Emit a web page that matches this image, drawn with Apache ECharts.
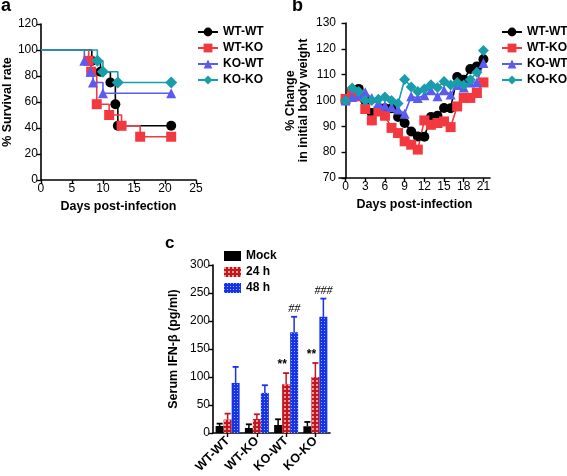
<!DOCTYPE html>
<html><head><meta charset="utf-8">
<script src="https://cdn.jsdelivr.net/npm/echarts@6/dist/echarts.min.js"></script>
<style>html,body{margin:0;padding:0;background:#fff}#c{width:567px;height:476px}</style>
</head><body><div id="c"></div>
<script>
// ---------- Panel a: survival ----------
const groupNames = ['WT-WT', 'WT-KO', 'KO-WT', 'KO-KO'];
const survDaysWTWT = [0, 8.2, 9.6, 11.2, 12, 12.4, 21];
const survValsWTWT = [100, 91.7, 83.3, 75, 58.3, 41.7, 41.7];
const survDaysWTKO = [0, 7.7, 8.1, 9, 11, 13, 16, 21];
const survValsWTKO = [100, 91.7, 83.3, 58.3, 50, 41.7, 33.3, 33.3];
const survDaysKOWT = [0, 7, 8, 8.4, 10, 21];
const survValsKOWT = [100, 91.7, 83.3, 75, 66.7, 66.7];
const survDaysKOKO = [0, 9.1, 10, 12.4, 21];
const survValsKOKO = [100, 91.7, 83.3, 75, 75];

// ---------- Panel b: body weight ----------
const weightDays = [0,1,2,3,4,5,6,7,8,9,10,11,12,13,14,15,16,17,18,19,20,21];
const weightWTWT = [100,104,104.5,100,95.2,95.8,97,97,93.6,91.3,88,86.1,86,93.6,94.1,97.1,97,109.1,108,112.2,113.2,116];
const weightWTKO = [100.6,102.9,101.6,96.7,92.3,95.8,94.1,89.4,87.4,84.2,82.9,81,92.3,90.6,91.3,91.9,89.7,97.7,101,101,102.9,107];
const weightKOWT = [100,101.4,102,103.2,101,99,98,97.5,96.5,94.9,101.6,101,102,104,101.6,104,102.3,106,105,107,107,114.5];
const weightKOKO = [100,104.8,103.5,100,100,100.5,101.4,100,98.8,108.1,105.2,103.5,104.5,106.1,105,107.4,106,107,106,108,110.9,119.4];
const weightTicks = [0,3,6,9,12,15,18,21];

// ---------- Panel c: serum IFN-beta ----------
const ifnCats = ['WT-WT', 'WT-KO', 'KO-WT', 'KO-KO'];
const ifnNames = ['Mock', '24 h', '48 h'];
const ifnMock = [12.5, 9, 14.3, 12];
const ifnMockErr = [4.2, 6.5, 10.2, 7.7];
const ifn24 = [24, 25, 87, 100];
const ifn24Err = [10.6, 8.4, 20, 25];
const ifn48 = [89.4, 71.6, 180, 207.5];
const ifn48Err = [28.6, 13.7, 27.5, 32.5];
const ifn24Marks = ['', '', '**', '**'];
const ifn48Marks = ['', '', '##', '###'];

const colors = ['#000000', '#f2393f', '#5b5bf0', '#1a9dab'];
const symbols = ['circle', 'rect', 'triangle', 'diamond'];
const FONT = 'Liberation Sans';

function axisCommon() {
  return {
    axisLine: {show: true, lineStyle: {color: '#000', width: 1.6}},
    axisTick: {show: true, length: 4, lineStyle: {color: '#000', width: 1.4}},
    axisLabel: {color: '#000', fontFamily: FONT, fontSize: 12, margin: 3},
    splitLine: {show: false},
    nameTextStyle: {color: '#000', fontFamily: FONT, fontWeight: 'bold', fontSize: 12.5}
  };
}

function survSeries(idx, days, vals) {
  return {
    name: groupNames[idx], type: 'line', step: 'end', xAxisIndex: 0, yAxisIndex: 0,
    data: days.map((d, i) => i === 0 ? {value: [d, vals[i]], symbol: 'none'} : [d, vals[i]]),
    symbol: symbols[idx], symbolSize: idx === 3 ? 12 : 10,
    lineStyle: {color: colors[idx], width: 1.6},
    itemStyle: {color: colors[idx]}, animation: false
  };
}
function weightSeries(idx, vals) {
  return {
    name: groupNames[idx], type: 'line', xAxisIndex: 1, yAxisIndex: 1,
    data: weightDays.map((d, i) => [d, vals[i]]),
    symbol: symbols[idx], symbolSize: idx === 3 ? 11 : 10,
    lineStyle: {color: colors[idx], width: 1.6},
    itemStyle: {color: colors[idx]}, animation: false
  };
}

const barColors = ['#000000', '#c4161d', '#1733e6'];
const decals = [
  null,
  {symbol: 'rect', symbolSize: 1, dashArrayX: [2, 2], dashArrayY: [2, 2], color: 'rgba(255,190,190,0.8)'},
  {symbol: 'rect', symbolSize: 1, dashArrayX: [1, 2], dashArrayY: [1, 2], color: 'rgba(200,215,255,0.75)'}
];
function barSeries(k, vals) {
  const st = {color: barColors[k]};
  if (decals[k]) st.decal = decals[k];
  return {
    name: ifnNames[k], type: 'bar', xAxisIndex: 2, yAxisIndex: 2, data: vals,
    barWidth: 8, barGap: '0%', itemStyle: st, animation: false
  };
}
function errSeries(k, vals, errs, offset, marks, markFont, markDx) {
  return {
    type: 'custom', xAxisIndex: 2, yAxisIndex: 2, animation: false, silent: true, z: 5,
    data: vals.map((v, i) => [i, v, v + errs[i]]),
    renderItem(params, api) {
      const i = api.value(0);
      const lo = api.coord([i, api.value(1)]);
      const hi = api.coord([i, api.value(2)]);
      const x = lo[0] + offset;
      const children = [
        {type: 'line', shape: {x1: x, y1: lo[1], x2: x, y2: hi[1]}, style: {stroke: barColors[k], lineWidth: 1.5}},
        {type: 'line', shape: {x1: x - 3, y1: hi[1], x2: x + 3, y2: hi[1]}, style: {stroke: barColors[k], lineWidth: 1.8}}
      ];
      const m = marks ? marks[params.dataIndex] : '';
      if (m) {
        children.push({type: 'text', x: x + markDx, y: hi[1] - 2,
          style: {text: m, fill: '#000', font: markFont, align: 'center', verticalAlign: 'bottom'}});
      }
      return {type: 'group', children};
    }
  };
}

const series = [
  survSeries(0, survDaysWTWT, survValsWTWT),
  survSeries(1, survDaysWTKO, survValsWTKO),
  survSeries(2, survDaysKOWT, survValsKOWT),
  survSeries(3, survDaysKOKO, survValsKOKO),
  weightSeries(0, weightWTWT),
  weightSeries(1, weightWTKO),
  weightSeries(2, weightKOWT),
  weightSeries(3, weightKOKO),
  barSeries(0, ifnMock),
  barSeries(1, ifn24),
  barSeries(2, ifn48),
  errSeries(0, ifnMock, ifnMockErr, -8, null),
  errSeries(1, ifn24, ifn24Err, 0, ifn24Marks, 'bold 12px "Liberation Sans"', -4),
  errSeries(2, ifn48, ifn48Err, 8, ifn48Marks, 'italic 12px "Liberation Serif"', 0)
];

const legendText = {color: '#000', fontFamily: FONT, fontWeight: 'bold', fontSize: 12, lineHeight: 12};

const option = {
  backgroundColor: '#fff',
  animation: false,
  title: [
    {text: 'a', left: 1, top: -3, padding: 0, textStyle: {fontFamily: FONT, fontWeight: 'bold', fontSize: 18, color: '#000'}},
    {text: 'b', left: 292, top: -3, padding: 0, textStyle: {fontFamily: FONT, fontWeight: 'bold', fontSize: 18, color: '#000'}},
    {text: 'c', left: 165, top: 235, padding: 0, textStyle: {fontFamily: FONT, fontWeight: 'bold', fontSize: 17, color: '#000'}}
  ],
  legend: [
    {data: groupNames.map(n => ({name: n})), orient: 'vertical', left: 197, top: 26, padding: 0,
     itemWidth: 20, itemHeight: 11, itemGap: 4, textStyle: legendText, selectedMode: false},
    {data: groupNames.map(n => ({name: n})), orient: 'vertical', left: 501, top: 26, padding: 0,
     itemWidth: 20, itemHeight: 11, itemGap: 4, textStyle: legendText, selectedMode: false},
    {data: ifnNames.map(n => ({name: n, icon: 'rect'})), orient: 'vertical', left: 224, top: 250, padding: 0,
     itemWidth: 17, itemHeight: 10, itemGap: 4, textStyle: legendText, selectedMode: false}
  ],
  grid: [
    {left: 40, top: 24, width: 156, height: 156, containLabel: false},
    {left: 339, top: 23, width: 151, height: 155, containLabel: false},
    {left: 213, top: 265, width: 117, height: 168, containLabel: false}
  ],
  xAxis: [
    Object.assign(axisCommon(), {type: 'value', gridIndex: 0, min: 0, max: 25, interval: 5,
      name: 'Days post-infection', nameLocation: 'middle', nameGap: 20}),
    Object.assign(axisCommon(), {type: 'value', gridIndex: 1, min: -1, max: 22,
      axisLabel: {color: '#000', fontFamily: FONT, fontSize: 12, margin: 3, customValues: weightTicks},
      axisTick: {show: true, length: 4, lineStyle: {color: '#000', width: 1.4}, customValues: weightTicks},
      name: 'Days post-infection', nameLocation: 'middle', nameGap: 20}),
    Object.assign(axisCommon(), {type: 'category', gridIndex: 2, data: ifnCats,
      axisTick: {show: true, alignWithLabel: true, length: 4, lineStyle: {color: '#000', width: 1.4}},
      axisLabel: {color: '#000', fontFamily: FONT, fontSize: 12.5, fontWeight: 'bold', rotate: 45, margin: 6, interval: 0}})
  ],
  yAxis: [
    Object.assign(axisCommon(), {type: 'value', gridIndex: 0, min: 0, max: 120, interval: 20,
      name: '% Survival rate', nameLocation: 'middle', nameGap: 22}),
    Object.assign(axisCommon(), {type: 'value', gridIndex: 1, min: 70, max: 130, interval: 10,
      name: '% Change\nin initial body weight', nameLocation: 'middle', nameGap: 29,
      nameTextStyle: {color: '#000', fontFamily: FONT, fontWeight: 'bold', fontSize: 12.5, lineHeight: 13}}),
    Object.assign(axisCommon(), {type: 'value', gridIndex: 2, min: 0, max: 300, interval: 50,
      name: 'Serum IFN-β (pg/ml)', nameLocation: 'middle', nameGap: 33})
  ],
  series
};
const chart = echarts.init(document.getElementById('c'), null, {renderer: 'canvas'});
chart.setOption(option);
</script>
</body></html>
